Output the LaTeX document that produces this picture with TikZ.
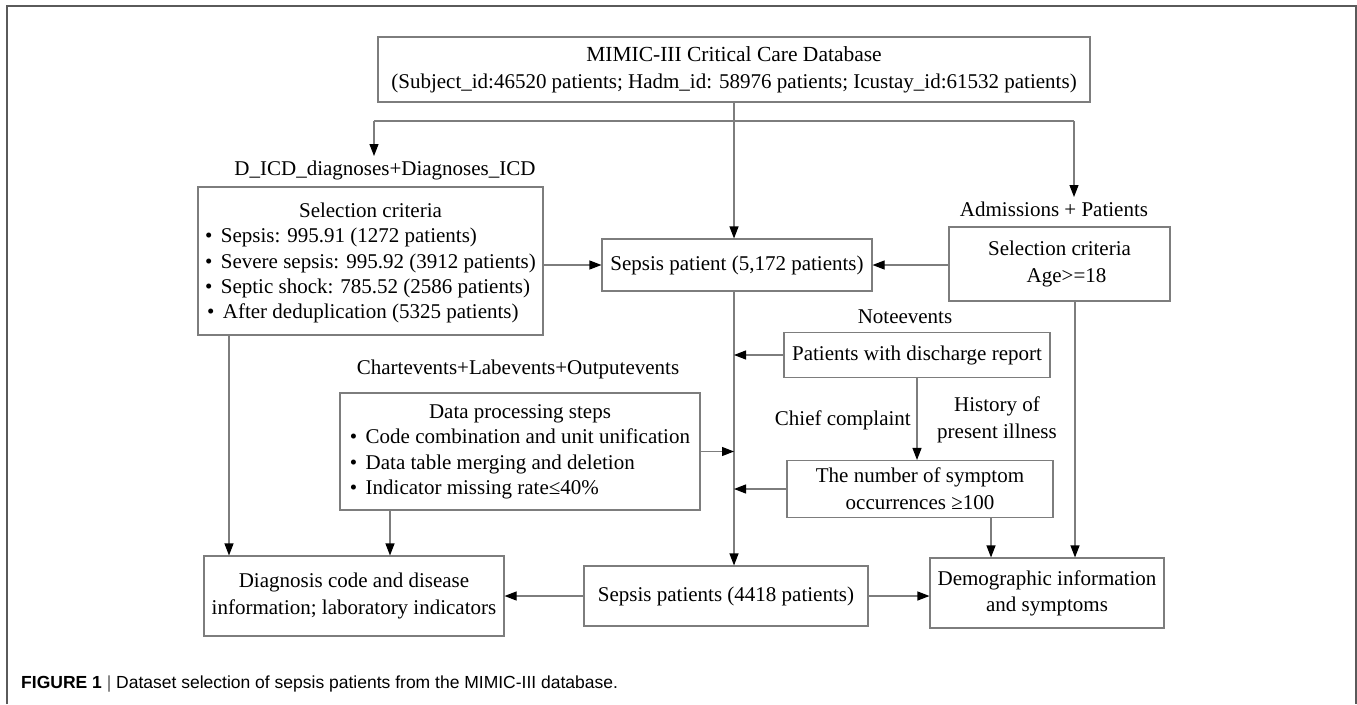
\documentclass[tikz,border=0pt]{standalone}
\usepackage{fontspec}
\setmainfont{Liberation Serif}
\newfontfamily\capfont{Liberation Sans}
\usetikzlibrary{arrows.meta}
\definecolor{lnc}{RGB}{125,125,125}
\definecolor{frc}{RGB}{90,90,90}
\newcommand\fs{\fontsize{21}{27}\selectfont}
\newcommand\bul{\textbullet\hspace{0.4em}}
\newcommand\lowerby[2]{\raisebox{-#1}[\height][\depth]{#2}}
\begin{document}
\begin{tikzpicture}[x=1pt,y=-1pt,
  box/.style={draw=lnc, line width=1.1pt, rectangle, inner sep=0pt, align=center, font=\fs},
  lbl/.style={inner sep=0pt, font=\fs, align=center},
  conn/.style={draw=lnc, line width=1.1pt},
  arr/.style={conn, -{Triangle[length=12pt,width=9pt,color=black]}}]
\useasboundingbox (0,0) rectangle (1357,704);
\draw[frc, line width=2pt] (7,704) -- (7,6) -- (1355.5,6) -- (1355.5,704);

\node[box, minimum width=712, minimum height=65] (db) at (734,69.5)
  {\fontsize{21.5}{24}\selectfont MIMIC-III Critical Care Database\\(Subject\_id:46520 patients; Hadm\_id: 58976 patients; Icustay\_id:61532 patients)};

\node[lbl] (dicd) at (385,170) {D\_ICD\_diagnoses+Diagnoses\_ICD};
\node[box, minimum width=345, minimum height=148] (selL) at (370.5,261)
  {\lowerby{2pt}{\fontsize{21}{25.2}\selectfont\begin{tabular}{@{}l@{}}\multicolumn{1}{c}{Selection criteria\hspace{20pt}}\\
   \bul Sepsis: 995.91 (1272 patients)\\
   \bul Severe sepsis: 995.92 (3912 patients)\\
   \bul Septic shock: 785.52 (2586 patients)\\
   \hspace{2pt}\bul After deduplication (5325 patients)\end{tabular}}};

\node[box, minimum width=270, minimum height=52] (sp1) at (737,265) {Sepsis patient (5,172 patients)};

\node[lbl] (adm) at (1054,209) {Admissions + Patients};
\node[box, minimum width=221, minimum height=74] (selR) at (1059.5,264) {Selection criteria\\\hspace{14pt}Age>=18};

\node[lbl] (note) at (905,317) {Noteevents};
\node[box, minimum width=266, minimum height=45] (dis) at (917,355) {Patients with discharge report};

\node[lbl] (chart) at (518,369) {Chartevents+Labevents+Outputevents};
\node[box, minimum width=360, minimum height=117] (data) at (520,451.5)
  {\fontsize{21}{25.3}\selectfont\begin{tabular}{@{}l@{}}\multicolumn{1}{c}{Data processing steps\hspace{20pt}}\\
   \bul Code combination and unit unification\\
   \bul Data table merging and deletion\\
   \bul Indicator missing rate≤40\%\end{tabular}};

\node[lbl, anchor=east] (cc) at (911,420) {Chief complaint};
\node[lbl, font=\fontsize{21}{27}\selectfont] (hist) at (997,420) {History of\\present illness};
\node[box, minimum width=266, minimum height=57, font=\fontsize{21}{27}\selectfont] (sym) at (920,489) {The number of symptom\\occurrences ≥100};

\node[box, minimum width=300, minimum height=80] (diag) at (354,596) {Diagnosis code and disease\\information; laboratory indicators};
\node[box, minimum width=284, minimum height=60] (s4418) at (726,596) {Sepsis patients (4418 patients)};
\node[box, minimum width=234, minimum height=70, font=\fontsize{21}{26}\selectfont] (demo) at (1047,593) {Demographic information\\and symptoms};

% connectors
\draw[arr] (db.south) -- (db.south |- sp1.north);
\coordinate (bL) at (374,121);
\coordinate (bR) at (1074,121);
\coordinate (tL) at (374,156);
\coordinate (tR) at (1074,197);
\draw[conn] (bL) -- (bR);
\draw[arr] (bL) -- (tL);
\draw[arr] (bR) -- (tR);
\draw[arr] (selL.east |- sp1) -- (sp1.west);
\draw[arr] (selR.west |- sp1) -- (sp1.east);
\draw[arr] (db.south |- sp1.south) -- (db.south |- s4418.north);
\draw[arr] (dis.west) -- (dis.west -| db.south);
\draw[arr] (data.east) -- (data.east -| db.south);
\draw[arr] (sym.west) -- (sym.west -| db.south);
\draw[arr] (dis.south) -- (dis.south |- sym.north);
\draw[arr] (229,0 |- selL.south) -- (229,0 |- diag.north);
\draw[arr] (390,0 |- data.south) -- (390,0 |- diag.north);
\draw[arr] (991,0 |- sym.south) -- (991,0 |- demo.north);
\draw[arr] (1075,0 |- selR.south) -- (1075,0 |- demo.north);
\draw[arr] (s4418.west) -- (s4418.west -| diag.east);
\draw[arr] (s4418.east) -- (s4418.east -| demo.west);

\node[anchor=base west, inner sep=0pt, font=\capfont\fontsize{17.5}{21}\selectfont] (cap) at (21,688)
  {\textbf{FIGURE 1} {\color{frc}|} Dataset selection of sepsis patients from the MIMIC-III database.};
\end{tikzpicture}
\end{document}
